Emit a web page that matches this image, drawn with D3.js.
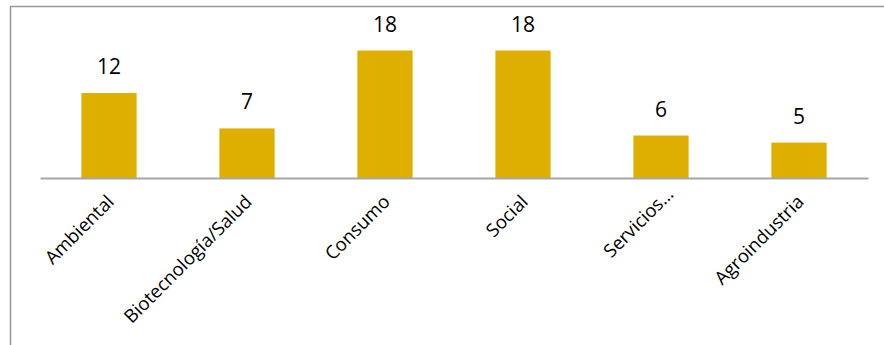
<!DOCTYPE html>
<html>
<head>
<meta charset="utf-8">
<script src="https://cdn.jsdelivr.net/npm/d3@7"></script>
<style>
  html, body { margin: 0; padding: 0; background: #fff; }
  svg { display: block; }
</style>
</head>
<body>
<svg id="chart" width="884" height="345"></svg>
<script>
const categories = ["Ambiental", "Biotecnología/Salud", "Consumo", "Social", "Servicios…", "Agroindustria"];
const values = [12, 7, 18, 18, 6, 5];

const W = 884, H = 345;
const svg = d3.select("#chart");
const font = "'Open Sans', 'Noto Sans', sans-serif";

// outer frame (only top and left visible)
svg.append("path")
  .attr("d", `M10.5,${H} L10.5,6.5 L${W},6.5`)
  .attr("fill", "none")
  .attr("stroke", "#999")
  .attr("stroke-width", 1.5);

const plot = { left: 40, right: 868, top: 50.5, bottom: 178 };

const x = d3.scaleBand().domain(categories).range([plot.left, plot.right]).padding(0);
const y = d3.scaleLinear().domain([0, 18]).range([plot.bottom, plot.top]);
const barW = x.bandwidth() * 0.4;

svg.append("g").selectAll("rect")
  .data(categories)
  .join("rect")
  .attr("x", (d) => x(d) + x.bandwidth() / 2 - barW / 2)
  .attr("y", (d, i) => y(values[i]))
  .attr("width", barW)
  .attr("height", (d, i) => y(0) - y(values[i]))
  .attr("fill", "#dfaf00");

// value labels
svg.append("g").selectAll("text")
  .data(categories)
  .join("text")
  .attr("x", (d) => x(d) + x.bandwidth() / 2)
  .attr("y", (d, i) => y(values[i]) - 19)
  .attr("text-anchor", "middle")
  .attr("font-family", font)
  .attr("font-size", 21)
  .attr("fill", "#000")
  .text((d, i) => values[i]);

// x axis
const axis = d3.axisBottom(x).tickSize(0).tickPadding(0);
const gx = svg.append("g").attr("transform", `translate(0,${plot.bottom})`).call(axis);
gx.select(".domain").attr("stroke", "#a6a6a6").attr("stroke-width", 2);
gx.selectAll(".tick text")
  .attr("font-family", font)
  .attr("font-size", 18.5)
  .attr("fill", "#000")
  .attr("text-anchor", "end")
  .attr("dy", null)
  .attr("y", null)
  .attr("dx", (d) => d.endsWith("…") ? 11 : 0)
  .attr("transform", "translate(6,25) rotate(-45)");
</script>
</body>
</html>
